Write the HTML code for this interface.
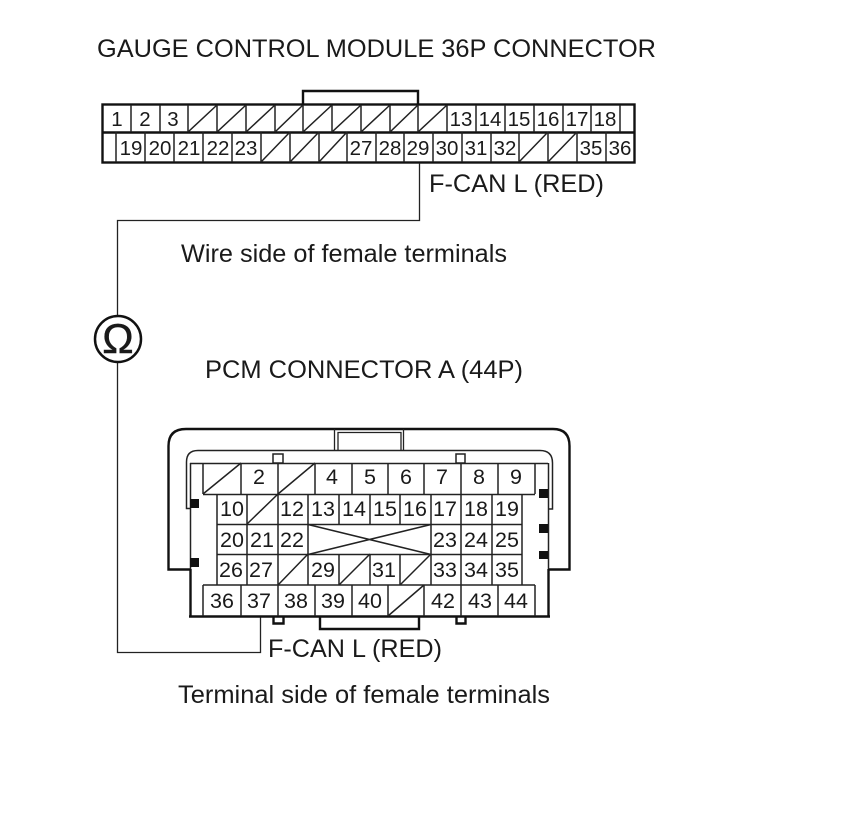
<!DOCTYPE html>
<html><head><meta charset="utf-8"><style>
html,body{margin:0;padding:0;background:#fff;width:860px;height:838px;overflow:hidden}
svg{display:block}
text{font-family:"Liberation Sans",Arial,sans-serif;fill:#1a1a1a}
.l{font-size:25.3px}
.n{font-size:20.5px;text-anchor:middle}
.b{font-size:21.5px;text-anchor:middle}
.t{fill:none;stroke:#111;stroke-width:2.4}
.m{fill:none;stroke:#222;stroke-width:1.5}
.w{fill:none;stroke:#222;stroke-width:1.3}
</style></head><body>
<svg width="860" height="838" viewBox="0 0 860 838" xmlns="http://www.w3.org/2000/svg">
<text class="l" x="97" y="57" textLength="559" lengthAdjust="spacingAndGlyphs">GAUGE CONTROL MODULE 36P CONNECTOR</text>
<text class="l" x="429" y="192" textLength="175" lengthAdjust="spacingAndGlyphs">F-CAN L (RED)</text>
<text class="l" x="181" y="262" textLength="326" lengthAdjust="spacingAndGlyphs">Wire side of female terminals</text>
<text class="l" x="205" y="378" textLength="318" lengthAdjust="spacingAndGlyphs">PCM CONNECTOR A (44P)</text>
<text class="l" x="268" y="657" textLength="174" lengthAdjust="spacingAndGlyphs">F-CAN L (RED)</text>
<text class="l" x="178" y="703" textLength="372" lengthAdjust="spacingAndGlyphs">Terminal side of female terminals</text>

<!-- top connector -->
<path class="t" d="M303 104V91H418V104"/>
<rect class="t" x="102.500" y="104.500" width="532" height="58"/>
<path class="t" d="M102 132.500H635" stroke-width="2"/>
<path class="m" d="M131 105V132M160 105V132M188 105V132M217 105V132M246 105V132M275 105V132M303 105V132M332 105V132M361 105V132M390 105V132M418 105V132M447 105V132M476 105V132M505 105V132M534 105V132M563 105V132M591 105V132M620 105V132"/>
<path class="m" d="M116 132V162M145 132V162M174 132V162M203 132V162M232 132V162M261 132V162M290 132V162M319 132V162M347 132V162M376 132V162M404 132V162M433 132V162M462 132V162M491 132V162M519 132V162M548 132V162M577 132V162M606 132V162"/>
<path class="m" d="M188 132L217 105M217 132L246 105M246 132L275 105M275 132L303 105M303 132L332 105M332 132L361 105M361 132L390 105M390 132L418 105M418 132L447 105"/>
<path class="m" d="M261 162L290 132M290 162L319 132M319 162L347 132M519 162L548 132M548 162L577 132"/>
<text class="n" x="117" y="126">1</text><text class="n" x="145" y="126">2</text><text class="n" x="173" y="126">3</text>
<text class="n" x="461" y="126">13</text><text class="n" x="490" y="126">14</text><text class="n" x="519" y="126">15</text><text class="n" x="548" y="126">16</text><text class="n" x="577" y="126">17</text><text class="n" x="605" y="126">18</text>
<text class="n" x="131" y="155">19</text><text class="n" x="160" y="155">20</text><text class="n" x="189" y="155">21</text><text class="n" x="218" y="155">22</text><text class="n" x="246" y="155">23</text>
<text class="n" x="361" y="155">27</text><text class="n" x="390" y="155">28</text><text class="n" x="418" y="155">29</text><text class="n" x="447" y="155">30</text><text class="n" x="476" y="155">31</text><text class="n" x="505" y="155">32</text>
<text class="n" x="591" y="155">35</text><text class="n" x="620" y="155">36</text>

<!-- wire -->
<path class="w" d="M419.500 163V220.500H117.500V316M117.500 362V652.500H260.500V617"/>
<circle cx="118" cy="339" r="23" fill="#fff" stroke="#111" stroke-width="2.5"/>
<text x="118" y="353" font-size="42" text-anchor="middle" stroke="#1a1a1a" stroke-width="0.5">Ω</text>

<!-- bottom connector housing -->
<path class="t" d="M190 569.500H168.500V446Q168.500 429 186 429H553Q569.500 429 569.500 446V569.500H548"/>
<path class="w" d="M334.500 429V450M403.500 429V450" stroke-width="1.600"/>
<path class="w" d="M338 450V432.500H401V450" stroke-width="1.600"/>
<path class="m" d="M190 508.500H186.500V462Q186.500 450.500 198 450.500H540Q552.500 450.500 552.500 463V509H548"/>
<path class="m" d="M190.500 463V569M548.500 463V569"/>
<path class="t" d="M190.500 569V617M548.500 569V617"/>
<path class="t" d="M189 616.500H550"/>
<path class="t" d="M320 617V629H419V617"/>
<rect class="m" x="273" y="454" width="10" height="9"/>
<rect class="m" x="456" y="454" width="9" height="9"/>
<path class="t" d="M273.500 617V623.500H283.500V617M456.500 617V623.500H465.500V617" stroke-width="2"/>
<g fill="#111"><rect x="190" y="499" width="9" height="9"/><rect x="190" y="558" width="9" height="9"/><rect x="539" y="489" width="9" height="9"/><rect x="539" y="524" width="9" height="9"/><rect x="539" y="551" width="9" height="8"/></g>

<!-- grid -->
<path class="m" d="M190 463.500H548M203 494.500H535M217 524.500H522M217 554.500H522M203 585H535"/>
<path class="m" d="M203 463V494M241 463V494M278 463V494M315 463V494M352 463V494M388 463V494M424 463V494M461 463V494M498 463V494M535 463V494"/>
<path class="m" d="M217 494V585M247 494V585M278 494V585M308 494V585M339 494V524M370 494V524M400 494V524M431 494V585M461 494V585M492 494V585M522 494V585M339 554V585M370 554V585M400 554V585"/>
<path class="m" d="M203 585V616M241 585V616M278 585V616M315 585V616M352 585V616M388 585V616M424 585V616M461 585V616M498 585V616M535 585V616"/>
<path class="m" d="M203 494L241 463M278 494L315 463M247 524L278 494M308 524.500L431 554.500M308 554.500L431 524.500M278 585L308 554M339 585L370 554M400 585L431 554M388 616L424 585"/>
<text class="b" x="259" y="484">2</text><text class="b" x="332" y="484">4</text><text class="b" x="370" y="484">5</text><text class="b" x="406" y="484">6</text><text class="b" x="442" y="484">7</text><text class="b" x="479" y="484">8</text><text class="b" x="516" y="484">9</text>
<text class="b" x="232" y="516">10</text><text class="b" x="292" y="516">12</text><text class="b" x="323" y="516">13</text><text class="b" x="354" y="516">14</text><text class="b" x="385" y="516">15</text><text class="b" x="415" y="516">16</text><text class="b" x="445" y="516">17</text><text class="b" x="476" y="516">18</text><text class="b" x="507" y="516">19</text>
<text class="b" x="232" y="547">20</text><text class="b" x="262" y="547">21</text><text class="b" x="292" y="547">22</text><text class="b" x="445" y="547">23</text><text class="b" x="476" y="547">24</text><text class="b" x="507" y="547">25</text>
<text class="b" x="231" y="577">26</text><text class="b" x="261" y="577">27</text><text class="b" x="323" y="577">29</text><text class="b" x="384" y="577">31</text><text class="b" x="445" y="577">33</text><text class="b" x="476" y="577">34</text><text class="b" x="507" y="577">35</text>
<text class="b" x="222" y="608">36</text><text class="b" x="259" y="608">37</text><text class="b" x="296" y="608">38</text><text class="b" x="333" y="608">39</text><text class="b" x="370" y="608">40</text><text class="b" x="443" y="608">42</text><text class="b" x="480" y="608">43</text><text class="b" x="516" y="608">44</text>
</svg>
</body></html>
